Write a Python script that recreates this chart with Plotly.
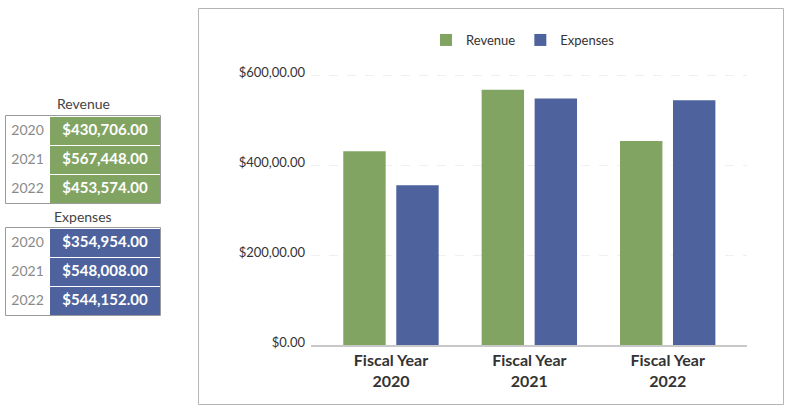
import plotly.graph_objects as go

years = ["2020", "2021", "2022"]
categories = ["Fiscal Year<br>2020", "Fiscal Year<br>2021", "Fiscal Year<br>2022"]
revenue = [430706, 567448, 453574]
expenses = [354954, 548008, 544152]
revenue_text = ["$430,706.00", "$567,448.00", "$453,574.00"]
expenses_text = ["$354,954.00", "$548,008.00", "$544,152.00"]
y_tickvals = [0, 200000, 400000, 600000]
y_ticktext = ["$0.00", "$200,00.00", "$400,00.00", "$600,00.00"]

GREEN = "#82a462"
BLUE = "#4e639e"
FONT = "Lato"
W, H = 800, 418

def px_x(p):
    return p / W

def px_y(p):
    return (H - p) / H

fig = go.Figure()

fig.add_trace(go.Bar(name="Revenue", x=categories, y=revenue, marker=dict(color=GREEN, line=dict(width=0))))
fig.add_trace(go.Bar(name="Expenses", x=categories, y=expenses, marker=dict(color=BLUE, line=dict(width=0))))

def add_table(values_text, color, top, bottom):
    style = dict(
        fill=dict(color=["white", color]),
        line=dict(color="white", width=1),
        align="center",
        height=29,
        font=dict(family=FONT, size=[14, 15], color=["#8a8a8a", "white"], weight=[400, 700]),
    )
    # first row is placed in the table header so no empty header row appears
    fig.add_trace(go.Table(
        domain=dict(x=[px_x(5.5), px_x(161)], y=[px_y(bottom), px_y(top)]),
        columnwidth=[44, 111],
        header=dict(values=[[years[0]], [values_text[0]]], **style),
        cells=dict(values=[years[1:], values_text[1:]], **style),
    ))

add_table(revenue_text, GREEN, 116, 210)
add_table(expenses_text, BLUE, 228, 322)

shapes = [
    dict(type="rect", xref="paper", yref="paper", x0=px_x(198.5), x1=px_x(783.5), y0=px_y(404.5), y1=px_y(8.5),
         line=dict(color="#b5b5b5", width=1), fillcolor="rgba(0,0,0,0)", layer="below"),
    dict(type="rect", xref="paper", yref="paper", x0=px_x(5.5), x1=px_x(160.5), y0=px_y(203.5), y1=px_y(115.5),
         line=dict(color="#9a9a9a", width=1), fillcolor="rgba(0,0,0,0)", layer="above"),
    dict(type="rect", xref="paper", yref="paper", x0=px_x(5.5), x1=px_x(160.5), y0=px_y(315.5), y1=px_y(227.5),
         line=dict(color="#9a9a9a", width=1), fillcolor="rgba(0,0,0,0)", layer="above"),
]

annotations = [
    dict(text="Revenue", x=px_x(83), y=px_y(104), xref="paper", yref="paper", showarrow=False,
         font=dict(family=FONT, size=14, color="#444444"), xanchor="center", yanchor="middle"),
    dict(text="Expenses", x=px_x(83), y=px_y(216), xref="paper", yref="paper", showarrow=False,
         font=dict(family=FONT, size=14, color="#444444"), xanchor="center", yanchor="middle"),
]

fig.update_layout(
    width=W, height=H,
    margin=dict(l=0, r=0, t=0, b=0, autoexpand=False),
    paper_bgcolor="white", plot_bgcolor="white",
    font=dict(family=FONT, color="#333333"),
    barmode="group", bargap=0.234, bargroupgap=0.2,
    shapes=shapes, annotations=annotations,
    legend=dict(orientation="h", x=px_x(523), xanchor="center", y=px_y(40), yanchor="middle",
                font=dict(family=FONT, size=13, color="#333333"), bgcolor="rgba(0,0,0,0)"),
    xaxis=dict(domain=[px_x(311), px_x(746.7)], range=[-0.578, 2.571], type="category",
               showline=True, linecolor="#c8c8c8", linewidth=2, showgrid=False, ticks="",
               automargin=False, ticklabelstandoff=0,
               tickfont=dict(family=FONT, size=16, color="#333333", weight=700)),
    yaxis=dict(domain=[px_y(345), px_y(52.5)], range=[0, 650000], tickvals=y_tickvals, ticktext=y_ticktext,
               showgrid=True, gridcolor="#f0f0f0", griddash="dash", gridwidth=1, zeroline=False,
               showline=False, ticks="", ticklabelstandoff=5, ticklabelshift=-3, automargin=False,
               tickfont=dict(family=FONT, size=13, color="#333333")),
)

fig.write_html("out.html")
